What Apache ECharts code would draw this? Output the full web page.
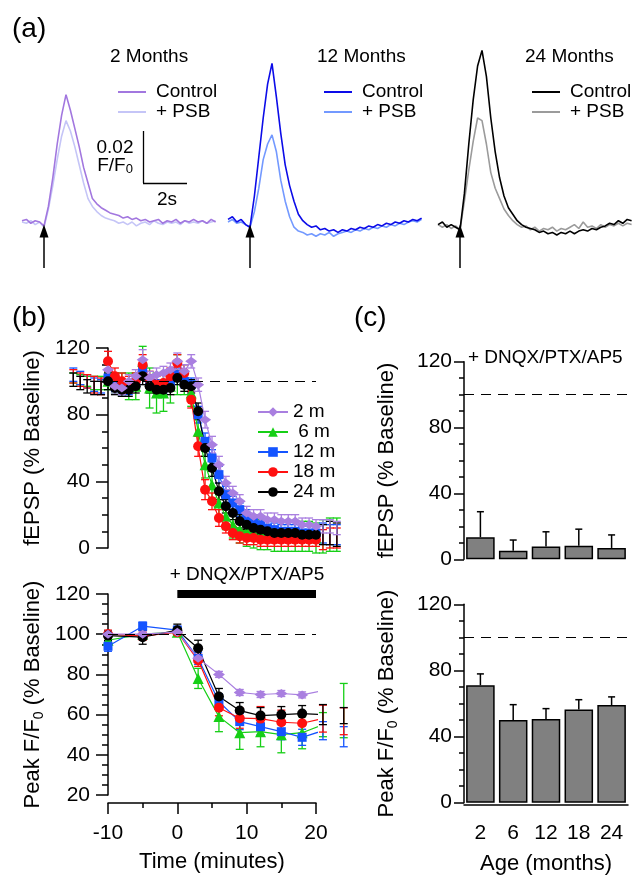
<!DOCTYPE html>
<html lang="en">
<head>
<meta charset="UTF-8">
<title>Ca transients and fEPSP across ages</title>
<script src="https://cdn.jsdelivr.net/npm/echarts@6.0.0/dist/echarts.min.js"></script>
<style>
  html, body { margin: 0; padding: 0; background: #fff; }
  #chart { width: 636px; height: 878px; }
</style>
</head>
<body>
<div id="chart"></div>
<script>
// ---------- (a) example traces, one sample every 0.2 s, units of 0.001 F/F0
var traceStep = 0.2;
var ctrl2 = [0.5, 1, -0.5, 0.5, 0, -1.5, 6, 17, 30, 41, 49, 43, 36, 29, 21, 15, 9, 7, 5.5, 4.5, 3.5, 3, 2.5, 1.5, 2, 1, 1.5, 0.5, 1, 0, 0.5, 1, -0.5, 0.5, 0, 1, -0.5, 0.5, 0, 1, 0, 0.5, -0.5, 1, 0];
var psb2 = [0, -0.5, 0.5, -1, 0, -2, 5, 14, 24, 33, 39, 35, 29, 22, 15, 9, 6, 4, 2.5, 1.5, 1, 0.5, -0.5, 0, -1, 0, -1.5, -0.5, 0, -1, 0.5, -0.5, -1, 0, -0.5, 0, -1, 0.5, -0.5, 0, -0.5, 0.5, -0.5, 0, 0.5];
var ctrl12 = [1, 2, 0, 1, -1, -2, 10, 25, 40, 53, 61, 48, 34, 22, 14, 8, 3, 0.5, -1, -2, -1.5, -3, -2.5, -3.5, -3, -4, -3, -3.5, -2.5, -3, -2, -2.5, -1.5, -2, -1, -1.5, -0.5, -1, 0, -0.5, 0.5, 0, 1, 0.5, 1.5];
var psb12 = [0, 1, -0.5, 0, -1, -2, 4, 13, 24, 30, 33.5, 27, 16, 8, 2, -2, -3.5, -4, -5, -4.5, -5.5, -4.5, -5, -4, -5.5, -4.5, -4, -3.5, -4, -3, -3.5, -2.5, -3, -2, -2.5, -1.5, -2, -1, -1.5, -0.5, -1, 0, 0.5, 0, 1];
var ctrl24 = [-1, 0, -2, -1, -2, -3, 11, 30, 47, 60, 66, 56, 40, 27, 17, 10, 5.5, 3, 0.5, -1, -2, -2.5, -3, -4, -3.5, -4.5, -4, -5, -4, -4.5, -3.5, -4.5, -3.5, -3, -3.5, -2.5, -3, -2, -1.5, -0.5, -1, 0.5, -0.5, 1, 0.5];
var psb24 = [-1, -2, -1, -2.5, -1.5, -3, 8, 20, 31, 40, 39, 30, 19, 13, 9, 5, 2.5, 0.5, -1, -2, -1.5, -3, -2, -3.5, -2.5, -3, -2, -3.5, -2.5, -3, -2, -1, -2.5, 0, -2, -1.5, -2.5, -1, -2, -1, -1.5, -0.5, -1.5, -0.5, -1];

// ---------- (b) fEPSP, one point per minute
var fTime = [-15, -14, -13, -12, -11, -10, -9, -8, -7, -6, -5, -4, -3, -2, -1, 0, 1, 2, 3, 4, 5, 6, 7, 8, 9, 10, 11, 12, 13, 14, 15, 16, 17, 18, 19, 20, 21, 22, 23];
var f2m = [null, null, null, null, null, 107, 97, 96, 100, 103, 113, 102, 104, 105, 107, 112, 106, 112, 98, 77, 62, 50, 39, 33, 28, 21, 19, 19, 17, 17, 16, 16, 16, 14, 14, 13, 13, 13, 12];
var f2mErr = [null, null, null, null, null, 5, 4, 4, 4, 4, 6, 4, 4, 4, 4, 5, 4, 4, 4, 5, 5, 5, 4, 4, 4, 4, 4, 4, 4, 4, 4, 4, 4, 4, 4, 4, 4, 4, 4];
var f6m = [102, 101, 100, 99, 99, 100, 99, 98, 97, 97, 112, 96, 93, 93, 97, 104, 101, 93, 70, 50, 38, 27, 19, 14, 11, 10, 9, 8, 8, 7, 7, 7, 7, 7, 7, 6, 7, 8, 8];
var f6mErr = [3, 3, 3, 4, 4, 5, 6, 7, 8, 8, 9, 12, 12, 11, 10, 12, 9, 8, 8, 8, 8, 8, 8, 8, 8, 9, 9, 9, 9, 9, 9, 9, 9, 9, 9, 9, 10, 10, 10];
var f12m = [104, 102, 100, 98, 97, 102, 98, 96, 96, 99, 108, 100, 97, 97, 99, 104, 100, 98, 80, 64, 54, 44, 32, 27, 23, 19, 16, 14, 12, 11, 10, 10, 10, 9, 9, 9, 9, 8, 8];
var f12mErr = [4, 4, 4, 4, 4, 4, 4, 4, 4, 4, 5, 4, 4, 4, 4, 4, 4, 4, 5, 5, 5, 5, 5, 4, 4, 4, 4, 4, 4, 4, 4, 4, 4, 4, 4, 4, 6, 6, 6];
var f18m = [103, 101, 100, 98, 97, 112, 103, 100, 98, 100, 110, 101, 98, 99, 103, 111, 105, 89, 61, 35, 28, 18, 13, 9, 7, 6, 6, 5, 5, 5, 5, 5, 5, 5, 5, 5, 5, 6, 6];
var f18mErr = [4, 4, 4, 5, 5, 6, 5, 5, 5, 5, 6, 5, 5, 5, 5, 5, 5, 5, 6, 6, 5, 5, 4, 4, 4, 4, 4, 4, 4, 4, 4, 4, 4, 4, 4, 4, 6, 6, 6];
var f24m = [101, 99, 97, 96, 96, 100, 96, 95, 95, 97, 103, 97, 95, 95, 96, 102, 98, 97, 82, 60, 48, 34, 25, 21, 16, 14, 12, 11, 10, 9, 9, 9, 9, 8, 8, 8, 8, 9, 8];
var f24mErr = [4, 4, 4, 4, 4, 5, 4, 4, 4, 4, 5, 4, 4, 4, 4, 4, 4, 4, 5, 5, 5, 5, 4, 4, 4, 3, 3, 3, 3, 3, 3, 3, 3, 3, 3, 3, 6, 7, 7];

// ---------- (b) peak F/F0
var pTime = [-10, -5, 0, 3, 6, 9, 12, 15, 18, 21, 24];
var p2m = [100, 100, 101, 88, 80, 71, 70, 70.5, 69.8, 72, null];
var p2mErr = [1.5, 1.5, 1.5, 1.5, 1.5, 1.5, 1.5, 1.5, 1.5, null, null];
var p6m = [97, 100, 101, 78, 59, 51, 51.5, 50, 51, 55, 62];
var p6mErr = [2, 2, 2, 5, 7.5, 8.3, 7.5, 9, 8, 6, 13.5];
var p12m = [94, 104, 102, 88, 66.4, 56.5, 54, 51.5, 48.7, 52, 49];
var p12mErr = [2.5, 2, 2, 3, 4, 4, 4, 4, 4, 4.5, 5];
var p18m = [100, 99, 101, 87, 63.4, 58.2, 58, 56.2, 55.7, 58, 56.7];
var p18mErr = [2, 2, 2, 3, 4, 5, 6, 6, 5, 6.7, 6.7];
var p24m = [99.3, 98.5, 102, 93, 69, 62, 59.5, 60, 60.5, 60, 59.5];
var p24mErr = [2.5, 3.5, 3, 4, 4, 4, 4, 4, 4, 5, 4];

// ---------- (c) summary bars
var ages = ['2', '6', '12', '18', '24'];
var fepspBar = [13.4, 5.2, 7.7, 8.3, 6.9];
var fepspBarErr = [15.5, 6.5, 9, 10, 7.9];
var peakBar = [71, 50, 50.6, 56.3, 59.1];
var peakBarErr = [6.9, 9.3, 6.3, 6, 4.9];

var FONT = 'Liberation Sans, Arial, Helvetica, sans-serif';
var chart = echarts.init(document.getElementById('chart'));

function tracePairs(vals) {
    return vals.map(function (v, i) { return [+(i * traceStep).toFixed(2), v]; });
}
function zip3(xs, ys, es) {
    return xs.map(function (x, i) { return [x, ys[i], es[i]]; });
}
function zip2(xs, ys) {
    return xs.map(function (x, i) { return [x, ys[i]]; });
}

// error bars drawn as custom series (not clipped, like the original)
function errBars(color, capW, upOnly, width) {
    return function (params, api) {
        var x = api.value(0), y = api.value(1), e = api.value(2);
        if (isNaN(y) || isNaN(e) || !e) return;
        var top = api.coord([x, y + e]);
        var bot = upOnly ? api.coord([x, y]) : api.coord([x, y - e]);
        var st = { stroke: color, lineWidth: width };
        var kids = [
            { type: 'line', shape: { x1: top[0], y1: top[1], x2: bot[0], y2: bot[1] }, style: st },
            { type: 'line', shape: { x1: top[0] - capW / 2, y1: top[1], x2: top[0] + capW / 2, y2: top[1] }, style: st }
        ];
        if (!upOnly) {
            kids.push({ type: 'line', shape: { x1: bot[0] - capW / 2, y1: bot[1], x2: bot[0] + capW / 2, y2: bot[1] }, style: st });
        }
        return { type: 'group', children: kids };
    };
}

var dashed = { color: '#000', width: 1.2, type: [10, 7] };

// grids: 0-2 traces, 3 fEPSP, 4 peak, 5 bar fEPSP, 6 bar peak
var grids = [
    { left: 22, top: 40, width: 193.6, height: 234 },
    { left: 228, top: 40, width: 193.6, height: 234 },
    { left: 438, top: 40, width: 193.6, height: 234 },
    { left: 108, top: 348, width: 208, height: 200 },
    { left: 108, top: 594, width: 208, height: 201 },
    { left: 464, top: 361.7, width: 164, height: 197.6 },
    { left: 464, top: 604.3, width: 164, height: 198.4 }
];

var xAxes = [], yAxes = [];
for (var g = 0; g < 3; g++) {
    xAxes.push({ gridIndex: g, type: 'value', min: 0, max: 8.8, show: false });
    yAxes.push({ gridIndex: g, type: 'value', min: -20, max: 70, show: false });
}

function leftAxis(gi, min, max, interval, name, gap, margin, tickLen) {
    return {
        gridIndex: gi, type: 'value', min: min, max: max, interval: interval,
        axisLine: { show: true, onZero: false, lineStyle: { color: '#000', width: 1.5 } },
        axisTick: { show: true, length: tickLen, lineStyle: { color: '#000', width: 1.5 } },
        minorTick: { show: true, splitNumber: 4, length: tickLen / 2, lineStyle: { color: '#000', width: 1.5 } },
        splitLine: { show: false },
        axisLabel: { color: '#000', fontSize: 21, fontFamily: FONT, margin: margin },
        name: name, nameLocation: 'middle', nameGap: gap, nameRotate: 90,
        nameTextStyle: {
            color: '#000', fontSize: 22, fontFamily: FONT, lineHeight: 26,
            rich: { s: { fontSize: 14, fontFamily: FONT, color: '#000', verticalAlign: 'bottom', lineHeight: 14 } }
        }
    };
}

xAxes.push({ gridIndex: 3, type: 'value', min: -10, max: 20, show: false });
yAxes.push(leftAxis(3, 0, 120, 40, 'fEPSP (% Baseline)', 62, 18, 12));
xAxes.push({
    gridIndex: 4, type: 'value', min: -10, max: 20, interval: 10, offset: 8,
    axisLine: { onZero: false, lineStyle: { color: '#000', width: 1.5 } },
    axisTick: { length: 11, lineStyle: { color: '#000', width: 1.5 } },
    minorTick: { show: true, splitNumber: 2, length: 5, lineStyle: { color: '#000', width: 1.5 } },
    splitLine: { show: false },
    axisLabel: { color: '#000', fontSize: 21, fontFamily: FONT, margin: 20 },
    name: 'Time (minutes)', nameLocation: 'middle', nameGap: 48,
    nameTextStyle: { color: '#000', fontSize: 22, fontFamily: FONT }
});
yAxes.push(leftAxis(4, 20, 120, 20, 'Peak F/F{s|0} (% Baseline)', 62, 18, 12));

xAxes.push({ gridIndex: 5, type: 'category', data: ages, show: false });
yAxes.push(leftAxis(5, 0, 120, 40, 'fEPSP (% Baseline)', 64, 12, 10));
xAxes.push({
    gridIndex: 6, type: 'category', data: ages, offset: 2,
    axisLine: { onZero: false, lineStyle: { color: '#000', width: 1.5 } },
    axisTick: { alignWithLabel: true, length: 10, lineStyle: { color: '#000', width: 1.5 } },
    axisLabel: { color: '#000', fontSize: 21, fontFamily: FONT, margin: 18 },
    name: 'Age (months)', nameLocation: 'middle', nameGap: 48,
    nameTextStyle: { color: '#000', fontSize: 22, fontFamily: FONT }
});
yAxes.push(leftAxis(6, 0, 120, 40, 'Peak F/F{s|0} (% Baseline)', 64, 12, 10));

var series = [];

// ---- (a) traces
var traceSets = [
    { gi: 0, tag: '2', ctrl: ctrl2, psb: psb2, cc: '#a277df', pc: '#c5c5f7' },
    { gi: 1, tag: '12', ctrl: ctrl12, psb: psb12, cc: '#0c0ce8', pc: '#7399ff' },
    { gi: 2, tag: '24', ctrl: ctrl24, psb: psb24, cc: '#000000', pc: '#9b9b9b' }
];
traceSets.forEach(function (s) {
    var psbSeries = {
        name: '+ PSB (' + s.tag + ')', type: 'line', xAxisIndex: s.gi, yAxisIndex: s.gi,
        data: tracePairs(s.psb), showSymbol: false, color: s.pc,
        lineStyle: { color: s.pc, width: 1.6 }
    };
    if (s.gi === 0) {
        // calibration bar: 2 s by 0.02 F/F0
        psbSeries.markLine = {
            silent: true, symbol: 'none', label: { show: false },
            lineStyle: { color: '#000', width: 1.3, type: 'solid' },
            data: [
                [{ coord: [5.5, 15] }, { coord: [5.5, 35] }],
                [{ coord: [5.5, 15] }, { coord: [7.5, 15] }]
            ]
        };
    }
    series.push(psbSeries);
    series.push({
        name: 'Control (' + s.tag + ')', type: 'line', xAxisIndex: s.gi, yAxisIndex: s.gi,
        data: tracePairs(s.ctrl), showSymbol: false, color: s.cc,
        lineStyle: { color: s.cc, width: 1.6 },
        markLine: {
            silent: true, symbol: ['none', 'triangle'], symbolSize: [9, 13], label: { show: false },
            lineStyle: { color: '#000', width: 1.5, type: 'solid' },
            data: [[{ coord: [1.0, -17.7] }, { coord: [1.0, -3.5] }]]
        }
    });
});

// ---- (b) time courses
var groups = [
    { name: '6 m', color: '#16cf16', symbol: 'triangle', size: 11, f: f6m, fe: f6mErr, p: p6m, pe: p6mErr },
    { name: '12 m', color: '#1454ff', symbol: 'rect', size: 9, f: f12m, fe: f12mErr, p: p12m, pe: p12mErr },
    { name: '18 m', color: '#ff1010', symbol: 'circle', size: 10, f: f18m, fe: f18mErr, p: p18m, pe: p18mErr },
    { name: '24 m', color: '#000000', symbol: 'circle', size: 10, f: f24m, fe: f24mErr, p: p24m, pe: p24mErr },
    { name: '2 m', color: '#a97fe0', symbol: 'diamond', size: [12, 9], f: f2m, fe: f2mErr, p: p2m, pe: p2mErr }
];
groups.forEach(function (gr, k) {
    series.push({
        name: gr.name + ' err', type: 'custom', xAxisIndex: 3, yAxisIndex: 3,
        renderItem: errBars(gr.color, 8, false, 1.3), data: zip3(fTime, gr.f, gr.fe), silent: true
    });
    var top = {
        name: gr.name, type: 'line', xAxisIndex: 3, yAxisIndex: 3,
        data: zip2(fTime, gr.f), symbol: gr.symbol, symbolSize: gr.size, showAllSymbol: true,
        color: gr.color, itemStyle: { color: gr.color }, lineStyle: { color: gr.color, width: 1.2 }
    };
    var bottom = {
        name: gr.name, type: 'line', xAxisIndex: 4, yAxisIndex: 4,
        data: zip2(pTime, gr.p), symbol: gr.symbol, symbolSize: gr.size, showAllSymbol: true,
        color: gr.color, itemStyle: { color: gr.color }, lineStyle: { color: gr.color, width: 1.2 }
    };
    if (k === 0) {
        top.markLine = { silent: true, symbol: 'none', label: { show: false }, lineStyle: dashed, data: [{ yAxis: 100 }] };
        bottom.markLine = {
            silent: true, symbol: 'none', label: { show: false },
            data: [
                { yAxis: 100, lineStyle: dashed },
                [{ coord: [0, 120], lineStyle: { color: '#000', width: 8, type: 'solid' } }, { coord: [20, 120] }]
            ]
        };
    }
    series.push(top);
    series.push({
        name: gr.name + ' err2', type: 'custom', xAxisIndex: 4, yAxisIndex: 4,
        renderItem: errBars(gr.color, 8, false, 1.3), data: zip3(pTime, gr.p, gr.pe), silent: true
    });
    series.push(bottom);
});

// ---- (c) bars
[[5, fepspBar, fepspBarErr], [6, peakBar, peakBarErr]].forEach(function (b) {
    series.push({
        type: 'bar', xAxisIndex: b[0], yAxisIndex: b[0], data: b[1], barCategoryGap: '13%',
        itemStyle: { color: '#808080', borderColor: '#000', borderWidth: 1.5 },
        markLine: { silent: true, symbol: 'none', label: { show: false }, lineStyle: dashed, data: [{ yAxis: 100 }] }
    });
    series.push({
        type: 'custom', xAxisIndex: b[0], yAxisIndex: b[0], silent: true,
        renderItem: errBars('#000', 7, true, 1.5),
        data: b[1].map(function (v, i) { return [i, v, b[2][i]]; })
    });
});

function traceLegend(tag, left) {
    return {
        data: ['Control (' + tag + ')', '+ PSB (' + tag + ')'],
        left: left, top: 77, orient: 'vertical', icon: 'rect',
        itemWidth: 28, itemHeight: 2, itemGap: 0, selectedMode: false,
        formatter: function (n) { return n.replace(/ \(.*\)$/, ''); },
        textStyle: { fontSize: 19, fontFamily: FONT, color: '#000', lineHeight: 20, padding: [0, 0, 0, 5] }
    };
}

function txt(x, y, text, size, align, extra) {
    var st = { text: text, fontSize: size, fontFamily: FONT, fill: '#000', align: align || 'left', verticalAlign: 'middle' };
    if (extra) st.rich = extra;
    return { type: 'text', x: x, y: y, silent: true, style: st };
}
var subRich = { s: { fontSize: 13, fontFamily: FONT, fill: '#000', verticalAlign: 'bottom', lineHeight: 13 } };

var option = {
    animation: false,
    backgroundColor: '#fff',
    textStyle: { fontFamily: FONT },
    grid: grids,
    xAxis: xAxes,
    yAxis: yAxes,
    legend: [
        traceLegend('2', 113),
        traceLegend('12', 319),
        traceLegend('24', 527),
        {
            data: ['2 m', '6 m', '12 m', '18 m', '24 m'],
            left: 252, top: 397, orient: 'vertical', itemWidth: 30, itemHeight: 12, itemGap: 0,
            selectedMode: false,
            formatter: function (n) { return n === '6 m' ? ' 6 m' : n; },
            textStyle: { fontSize: 19, fontFamily: FONT, color: '#000', lineHeight: 20 }
        }
    ],
    graphic: [
        txt(12, 29, '(a)', 28),
        txt(12, 318, '(b)', 28),
        txt(354, 318, '(c)', 28),
        txt(110, 57, '2 Months', 19),
        txt(317, 57, '12 Months', 19),
        txt(525, 57, '24 Months', 19),
        txt(115, 148, '0.02', 19, 'center'),
        txt(115, 166, 'F/F{s|0}', 19, 'center', subRich),
        txt(167, 200, '2s', 19, 'center'),
        txt(247, 575, '+ DNQX/PTX/AP5', 19, 'center'),
        txt(468, 358, '+ DNQX/PTX/AP5', 19, 'left')
    ],
    series: series
};
chart.setOption(option);
</script>
</body>
</html>
